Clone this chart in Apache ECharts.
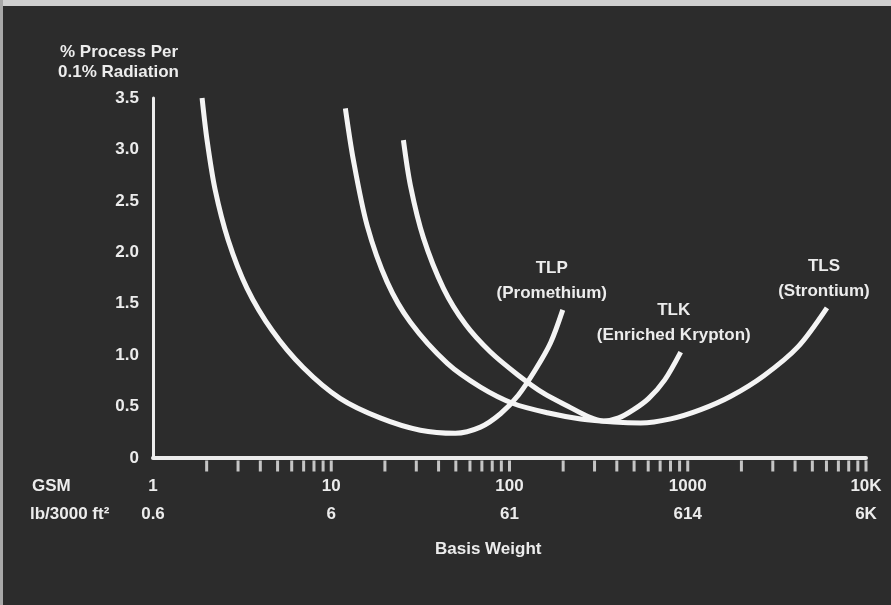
<!DOCTYPE html>
<html>
<head>
<meta charset="utf-8">
<script src="https://cdn.jsdelivr.net/npm/echarts@6/dist/echarts.min.js"></script>
<style>
html, body { margin: 0; padding: 0; }
#wrap {
  position: relative; width: 891px; height: 605px;
  background: linear-gradient(#cfcfcf 0 6px, #2c2c2c 6px);
}
#wrap:before {
  content: ''; position: absolute; left: 0; top: 0; width: 3px; height: 605px; background: #a8a8a8;
}
#chart { position: absolute; left: 0; top: 0; width: 891px; height: 605px; }
</style>
</head>
<body>
<div id="wrap"><div id="chart"></div></div>
<script>
// x axis: basis weight, GSM on a log scale, with lb/3000 ft2 below
const gsmTicks = [1, 10, 100, 1000, 10000];
const gsmLabels = ['1', '10', '100', '1000', '10K'];
const lbLabels = ['0.6', '6', '61', '614', '6K'];
const minorTicks = [2, 3, 4, 5, 6, 7, 8, 9, 10,
  20, 30, 40, 50, 60, 70, 80, 90, 100,
  200, 300, 400, 500, 600, 700, 800, 900, 1000,
  2000, 3000, 4000, 5000, 6000, 7000, 8000, 9000, 10000];

// % process per 0.1% radiation
const tlpGsm = [1.885, 2.01, 2.23, 2.64, 3.37, 4.66, 6.96, 11.2, 18.8, 31.6, 49.7, 68.7, 89, 112, 140, 170, 199];
const tlpVal = [3.50, 3.09, 2.61, 2.12, 1.65, 1.24, 0.88, 0.58, 0.39, 0.27, 0.24, 0.30, 0.43, 0.61, 0.86, 1.12, 1.44];

const tlsGsm = [12.0, 13.3, 15.9, 20.6, 27.8, 44.8, 68.7, 105, 163, 251, 384, 544, 803, 1183, 1744, 2673, 4150, 6040];
const tlsVal = [3.40, 2.90, 2.26, 1.71, 1.32, 0.92, 0.69, 0.53, 0.44, 0.38, 0.35, 0.34, 0.38, 0.47, 0.60, 0.80, 1.08, 1.46];

const tlkGsm = [25.4, 27.8, 32.9, 42.6, 56.6, 78.2, 111, 155, 220, 278, 337, 410, 497, 604, 743, 913];
const tlkVal = [3.09, 2.65, 2.14, 1.65, 1.30, 1.03, 0.81, 0.63, 0.49, 0.40, 0.36, 0.39, 0.47, 0.58, 0.76, 1.03];

const FONT = '"Liberation Sans", Arial, sans-serif';
const INK = '#ececec';

function pairs(xs, ys) {
  return xs.map((x, i) => [x, ys[i]]);
}

function curve(name, xs, ys, label, padRight) {
  return {
    name: name,
    type: 'line',
    data: pairs(xs, ys),
    smooth: 0.3,
    symbol: 'none',
    clip: false,
    lineStyle: { color: '#f4f4f4', width: 5 },
    endLabel: {
      show: true,
      distance: 0,
      align: 'center',
      verticalAlign: 'bottom',
      formatter: label,
      color: INK,
      fontFamily: FONT,
      fontWeight: 'bold',
      fontSize: 17,
      lineHeight: 25,
      padding: [0, padRight, 4, 0]
    }
  };
}

let myChart = echarts.init(document.getElementById('chart'));
myChart.setOption({
  animation: false,
  backgroundColor: 'transparent',
  grid: { left: 153, right: 25, top: 98, bottom: 147 },
  xAxis: {
    type: 'log',
    logBase: 10,
    min: 1,
    max: 10000,
    axisLine: { show: true, lineStyle: { color: INK, width: 4 } },
    axisTick: { show: false },
    minorTick: { show: false },
    splitLine: { show: false },
    axisLabel: {
      margin: 14,
      formatter: function (v) {
        const i = Math.round(Math.log10(v));
        return '{a|' + gsmLabels[i] + '}\n{b|' + lbLabels[i] + '}';
      },
      rich: {
        a: { color: INK, fontFamily: FONT, fontWeight: 'bold', fontSize: 17, lineHeight: 28 },
        b: { color: INK, fontFamily: FONT, fontWeight: 'bold', fontSize: 17, lineHeight: 28 }
      }
    }
  },
  yAxis: {
    type: 'value',
    min: 0,
    max: 3.5,
    interval: 0.5,
    axisLine: { show: true, lineStyle: { color: INK, width: 3 } },
    axisTick: { show: false },
    splitLine: { show: false },
    axisLabel: {
      margin: 14,
      color: INK,
      fontFamily: FONT,
      fontWeight: 'bold',
      fontSize: 17,
      formatter: v => v === 0 ? '0' : v.toFixed(1)
    }
  },
  graphic: [
    { type: 'text', left: 60, top: 44, style: { text: '% Process Per', fill: INK, font: 'bold 17px ' + FONT } },
    { type: 'text', left: 58, top: 64, style: { text: '0.1% Radiation', fill: INK, font: 'bold 17px ' + FONT } },
    { type: 'text', left: 32, top: 478, style: { text: 'GSM', fill: INK, font: 'bold 17px ' + FONT } },
    { type: 'text', left: 30, top: 506, style: { text: 'lb/3000 ft²', fill: INK, font: 'bold 17px ' + FONT } },
    { type: 'text', left: 435, top: 541, style: { text: 'Basis Weight', fill: INK, font: 'bold 17px ' + FONT } }
  ],
  series: [
    curve('TLP', tlpGsm, tlpVal, 'TLP\n(Promethium)', 22),
    curve('TLS', tlsGsm, tlsVal, 'TLS\n(Strontium)', 6),
    curve('TLK', tlkGsm, tlkVal, 'TLK\n(Enriched Krypton)', 14),
    {
      name: 'ticks',
      type: 'scatter',
      data: minorTicks.map(v => [v, 0]),
      symbol: 'rect',
      symbolSize: [3, 11],
      symbolOffset: [0, 8],
      clip: false,
      silent: true,
      itemStyle: { color: INK }
    }
  ]
});
</script>
</body>
</html>
